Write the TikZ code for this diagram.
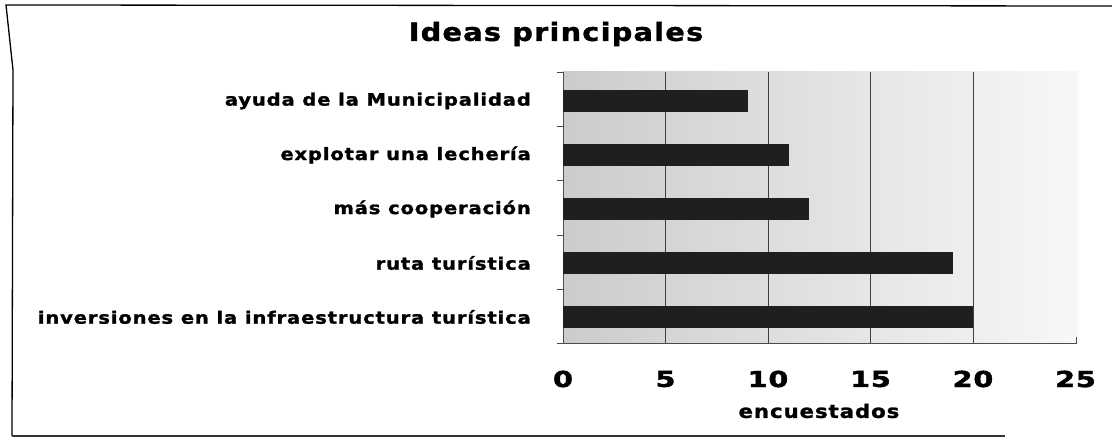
\documentclass[tikz,border=0pt]{standalone}
\usepackage{fontspec}
\setmainfont{DejaVu Sans}
\newfontfamily\labfont[FakeStretch=1.15,LetterSpace=5,FakeBold=1.5]{DejaVu Sans Bold}
\newfontfamily\numfont[FakeStretch=1.3,LetterSpace=4,FakeBold=2]{DejaVu Sans Bold}
\begin{document}
\begin{tikzpicture}[x=1pt,y=-1pt,
  frame/.style={draw=black,line width=1.3pt},
  catlabel/.style={font=\labfont\fontsize{17}{20}\selectfont,anchor=east,inner sep=0pt},
  ticklabel/.style={font=\numfont\fontsize{22}{24}\selectfont,anchor=center,inner sep=0pt},
  bar/.style={fill=black!88},
  grid/.style={draw=black!75,line width=0.8pt},
  axis/.style={draw=black!70,line width=0.8pt}]
\useasboundingbox (0,0) rectangle (1112,438);
% frame
\draw[frame] (1112,6) -- (6,5) -- (13,70) -- (12,436);
\draw[frame,draw=black!80] (12,436) -- (1005,436);
% title
\node[font=\labfont\fontsize{25}{28}\selectfont,inner sep=0pt] (title) at (556,34) {Ideas principales};
% plot area
\shade[left color=black!20,right color=black!3] (563,72) rectangle (1078,343);
\foreach \v in {5,10,15,20}{
  \draw[grid] ({563+\v*20.5},72) -- ({563+\v*20.5},343);
}
% axes
\draw[axis] (563,72) -- (563,343) -- (1076,343) -- (1076,337);
\foreach \yy in {72,126,180,235,289,343}{
  \draw[axis] (557,\yy) -- (563,\yy);
}
% bars
\foreach \val/\yc in {9/101,11/155,12/209,19/263,20/317}{
  \fill[bar] (563,{\yc-11}) rectangle ({563+\val*20.5},{\yc+11});
}
% category labels
\node[catlabel] (c1) at (531,101) {ayuda de la Municipalidad};
\node[catlabel] (c2) at (531,155) {explotar una lechería};
\node[catlabel] (c3) at (531,209) {más cooperación};
\node[catlabel] (c4) at (531,263) {ruta turística};
\node[catlabel] (c5) at (531,317) {inversiones en la infraestructura turística};
% tick labels
\foreach \v in {0,5,10,15,20,25}{
  \node[ticklabel] (t\v) at ({563+\v*20.5},379) {\v};
}
\node[font=\labfont\fontsize{18.5}{20}\selectfont,inner sep=0pt] (xlab) at (819,411) {encuestados};
\end{tikzpicture}
\end{document}
